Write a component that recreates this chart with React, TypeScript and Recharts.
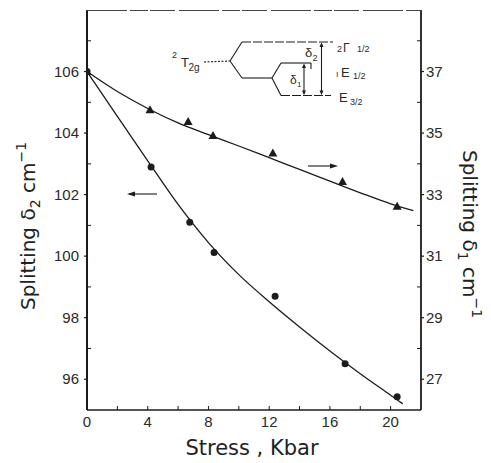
import React from 'react';
import { ComposedChart, Line, Scatter, XAxis, YAxis } from 'recharts';

// ---- data ----
const circleStress = [0, 4.22, 6.77, 8.37, 12.39, 17.0, 20.43];
const delta2Values = [106, 102.9, 101.1, 100.12, 98.7, 96.5, 95.43];
const triangleStress = [0, 4.15, 6.66, 8.3, 12.24, 16.83, 20.43];
const delta1Values = [37, 35.76, 35.38, 34.92, 34.35, 33.43, 32.62];
const delta2FitStress = [0, 2, 4, 6, 8, 10, 12, 14, 16, 18, 20, 20.8];
const delta2FitValues = [106, 104.54, 103.1, 101.68, 100.44, 99.4, 98.52, 97.7, 96.92, 96.18, 95.48, 95.2];
const delta1FitStress = [0, 2, 4, 6, 8, 10, 12, 14, 16, 18, 20, 21.5];
const delta1FitValues = [37.0, 36.35, 35.8, 35.33, 34.95, 34.58, 34.2, 33.82, 33.44, 33.06, 32.7, 32.48];

const xTicks = [0, 2, 4, 6, 8, 10, 12, 14, 16, 18, 20];
const xLabels = [0, 4, 8, 12, 16, 20];
const leftTicks = [96, 97, 98, 99, 100, 101, 102, 103, 104, 105, 106, 107];
const leftLabels = [96, 98, 100, 102, 104, 106];
const rightTicks = [27, 28, 29, 30, 31, 32, 33, 34, 35, 36, 37, 38];
const rightLabels = [27, 29, 31, 33, 35, 37];

const circles = circleStress.map((x, i) => ({ x, y: delta2Values[i] }));
const triangles = triangleStress.map((x, i) => ({ x, y: delta1Values[i] }));
const fit2 = delta2FitStress.map((x, i) => ({ x, y: delta2FitValues[i] }));
const fit1 = delta1FitStress.map((x, i) => ({ x, y: delta1FitValues[i] }));

const INK = '#1c1c1c';
const TICKFONT = '"Liberation Sans", Arial, sans-serif';
const TITLEFONT = '"DejaVu Sans", sans-serif';

const LeftTick = (props: any) => {
  const { x, y, payload } = props;
  const v = payload.value;
  const major = leftLabels.includes(v);
  return (
    <g>
      {major ? (
        <line x1={x - 3} x2={x} y1={y} y2={y} stroke={INK} strokeWidth={1.2} />
      ) : (
        <line x1={x} x2={x + 4} y1={y} y2={y} stroke={INK} strokeWidth={1} />
      )}
      {major && (
        <text x={x - 8} y={y + 5} textAnchor="end" fontFamily={TICKFONT} fontSize={15} fill="#2a2a2a">
          {v}
        </text>
      )}
    </g>
  );
};

const RightTick = (props: any) => {
  const { x, y, payload } = props;
  const v = payload.value;
  const major = rightLabels.includes(v);
  return (
    <g>
      {major ? (
        <line x1={x} x2={x + 3} y1={y} y2={y} stroke={INK} strokeWidth={1.2} />
      ) : (
        <line x1={x - 4} x2={x} y1={y} y2={y} stroke={INK} strokeWidth={1} />
      )}
      {major && (
        <text x={x + 5} y={y + 5} textAnchor="start" fontFamily={TICKFONT} fontSize={15} fill="#2a2a2a">
          {v}
        </text>
      )}
    </g>
  );
};

const BottomTick = (props: any) => {
  const { x, y, payload } = props;
  const v = payload.value;
  return (
    <g>
      <line x1={x} x2={x} y1={y} y2={y - 4} stroke={INK} strokeWidth={1} />
      {xLabels.includes(v) && (
        <text x={x} y={y + 17} textAnchor="middle" fontFamily={TICKFONT} fontSize={15} fill="#2a2a2a">
          {v}
        </text>
      )}
    </g>
  );
};

const Dot = (props: any) => <circle cx={props.cx} cy={props.cy} r={3.5} fill={INK} />;
const Tri = (props: any) => {
  const { cx, cy } = props;
  return <polygon points={`${cx},${cy - 4.5} ${cx + 4.5},${cy + 3.5} ${cx - 4.5},${cy + 3.5}`} fill={INK} />;
};

const Overlay = () => (
  <svg width={491} height={463} style={{ position: 'absolute', left: 0, top: 0, pointerEvents: 'none' }}>
    {/* top border */}
    <line x1={87} x2={421} y1={10.5} y2={10.5} stroke="#444" strokeWidth={1.2} strokeDasharray="40 3 18 2 25 4" />
    {/* arrows */}
    <line x1={129} x2={157} y1={194} y2={194} stroke={INK} strokeWidth={1.1} />
    <polygon points="127,194 135,191.5 135,196.5" fill={INK} />
    <line x1={308} x2={335} y1={166} y2={166} stroke={INK} strokeWidth={1.1} />
    <polygon points="338,166 330,163.5 330,168.5" fill={INK} />
    {/* inset level diagram */}
    <g stroke={INK} strokeWidth={1.1} fill="none">
      <line x1={204} x2={230} y1={62} y2={61} strokeDasharray="2 1.5" />
      <line x1={230} y1={61} x2={242} y2={42} />
      <line x1={230} y1={61} x2={242} y2={78} />
      <line x1={242} y1={42} x2={333} y2={42} strokeDasharray="9 2" />
      <line x1={242} y1={78} x2={272} y2={78} />
      <line x1={272} y1={78} x2={281} y2={63} />
      <line x1={272} y1={78} x2={281} y2={95.5} />
      <line x1={281} y1={63} x2={311} y2={63} />
      <line x1={311} y1={63} x2={311} y2={69} />
      <line x1={281} y1={95.5} x2={331} y2={95.5} strokeDasharray="9 2" />
      <line x1={304} y1={65} x2={304} y2={94} />
      <line x1={321.5} y1={44} x2={321.5} y2={94} />
    </g>
    <g fill={INK}>
      <polygon points="304,63.5 302,68 306,68" />
      <polygon points="304,95 302,90.5 306,90.5" />
      <polygon points="321.5,42.5 319.5,47 323.5,47" />
      <polygon points="321.5,95 319.5,90.5 323.5,90.5" />
    </g>
    <g fontFamily={TICKFONT} fill="#2a2a2a">
      <text x={172} y={58} fontSize={9}>2</text>
      <text x={181} y={67} fontSize={13}>T</text>
      <text x={188.5} y={71} fontSize={10}>2g</text>
      <text x={305} y={57} fontSize={13}>δ</text>
      <text x={312.5} y={61} fontSize={9}>2</text>
      <text x={290} y={84} fontSize={12}>δ</text>
      <text x={297} y={87} fontSize={8}>1</text>
      <text x={337} y={52} fontSize={9}>2</text>
      <text x={343} y={52} fontSize={12}>Γ</text>
      <text x={357} y={52} fontSize={9}>1/2</text>
      <text x={336} y={77} fontSize={9}>ı</text>
      <text x={341} y={77} fontSize={13}>E</text>
      <text x={353} y={79} fontSize={9}>1/2</text>
      <text x={339} y={102} fontSize={13}>E</text>
      <text x={350} y={105} fontSize={9}>3/2</text>
    </g>
    {/* axis titles */}
    <text x={252} y={455} textAnchor="middle" fontFamily={TITLEFONT} fontSize={21} fill="#222">
      Stress , Kbar
    </text>
    <text
      transform="translate(35,226) rotate(-90)"
      textAnchor="middle"
      fontFamily={TITLEFONT}
      fontSize={20}
      fill="#222"
    >
      Splitting  δ<tspan fontSize={14} dy={5}>2</tspan>
      <tspan dy={-5}>  cm</tspan>
      <tspan fontSize={14} dy={-9}>−1</tspan>
    </text>
    <text
      transform="translate(463,234) rotate(90)"
      textAnchor="middle"
      fontFamily={TITLEFONT}
      fontSize={20}
      fill="#222"
    >
      Splitting  δ<tspan fontSize={14} dy={5}>1</tspan>
      <tspan dy={-5}>  cm</tspan>
      <tspan fontSize={14} dy={-9}>−1</tspan>
    </text>
  </svg>
);

export default function App() {
  return (
    <div style={{ position: 'absolute', left: 0, top: 0, width: 491, height: 463, background: '#fff' }}>
      <ComposedChart width={491} height={463} margin={{ top: 10, right: 0, bottom: 0, left: 0 }}>
        <XAxis
          type="number"
          dataKey="x"
          domain={[0, 22]}
          ticks={xTicks}
          interval={0}
          height={53}
          tickSize={0}
          tickMargin={0}
          tickLine={false}
          tick={<BottomTick />}
          axisLine={{ stroke: INK, strokeWidth: 1.5 }}
          allowDataOverflow
        />
        <YAxis
          yAxisId="L"
          type="number"
          domain={[95, 108]}
          ticks={leftTicks}
          interval={0}
          width={87}
          tickSize={0}
          tickMargin={0}
          tickLine={false}
          tick={<LeftTick />}
          axisLine={{ stroke: INK, strokeWidth: 2 }}
          allowDataOverflow
        />
        <YAxis
          yAxisId="R"
          orientation="right"
          type="number"
          domain={[26, 39]}
          ticks={rightTicks}
          interval={0}
          width={70}
          tickSize={0}
          tickMargin={0}
          tickLine={false}
          tick={<RightTick />}
          axisLine={{ stroke: INK, strokeWidth: 1.8 }}
          allowDataOverflow
        />
        <Line
          yAxisId="L"
          data={fit2}
          dataKey="y"
          type="monotone"
          stroke={INK}
          strokeWidth={1.3}
          dot={false}
          isAnimationActive={false}
        />
        <Line
          yAxisId="R"
          data={fit1}
          dataKey="y"
          type="monotone"
          stroke={INK}
          strokeWidth={1.3}
          dot={false}
          isAnimationActive={false}
        />
        <Scatter yAxisId="L" data={circles} dataKey="y" shape={<Dot />} isAnimationActive={false} />
        <Scatter yAxisId="R" data={triangles} dataKey="y" shape={<Tri />} isAnimationActive={false} />
      </ComposedChart>
      <Overlay />
    </div>
  );
}
